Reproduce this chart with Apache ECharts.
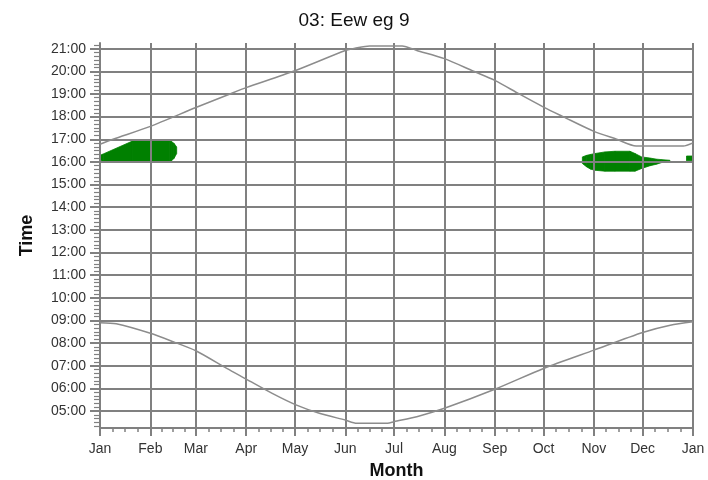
<!DOCTYPE html>
<html><head><meta charset="utf-8">
<script src="https://cdn.jsdelivr.net/npm/echarts@6/dist/echarts.min.js"></script>
<style>html,body{margin:0;padding:0;background:#fff}#c{width:708px;height:480px}</style>
</head><body><div id="c"></div>
<script>
const titleText = '03: Eew eg 9';
const xName = 'Month';
const yName = 'Time';
const monthStarts = [0, 31, 59, 90, 120, 151, 181, 212, 243, 273, 304, 334, 365];
const monthLabels = ['Jan','Feb','Mar','Apr','May','Jun','Jul','Aug','Sep','Oct','Nov','Dec','Jan'];
const hourTicks = [5,6,7,8,9,10,11,12,13,14,15,16,17,18,19,20,21];
const hourLabels = ['05:00','06:00','07:00','08:00','09:00','10:00','11:00','12:00','13:00','14:00','15:00','16:00','17:00','18:00','19:00','20:00','21:00'];

const sunsetDays  = [0, 8, 31, 59, 80, 90, 119, 151, 157, 166, 186, 195, 212, 230, 243, 258, 273, 285, 304, 318, 330, 359, 365];
const sunsetHours = [16.78, 17.0, 17.57, 18.4, 19.0, 19.28, 20.0, 20.92, 21.02, 21.12, 21.12, 20.92, 20.56, 20.0, 19.6, 19.0, 18.42, 18.0, 17.35, 17.0, 16.7, 16.7, 16.84];

const sunriseDays  = [0, 10, 31, 45, 59, 78, 90, 106, 121, 135, 151, 158, 177, 181, 195, 212, 243, 273, 304, 334, 351, 365];
const sunriseHours = [8.9, 8.85, 8.43, 8.06, 7.66, 6.88, 6.41, 5.78, 5.26, 4.9, 4.6, 4.46, 4.46, 4.53, 4.75, 5.12, 5.96, 6.88, 7.69, 8.47, 8.79, 8.94];

const blob1Days  = [0, 2, 20, 43, 44, 45.5, 47.2];
const blob1Start = [16.07, 16.03, 16.03, 16.03, 16.05, 16.15, 16.37];
const blob1End   = [16.29, 16.35, 16.92, 16.92, 16.9, 16.82, 16.66];

const blob2Days  = [296.9, 299.6, 302, 304.7, 310.8, 317, 326.2, 329.3, 333.4, 338.5, 342.6, 345.7, 350.8];
const blob2Start = [15.93, 15.78, 15.68, 15.63, 15.59, 15.59, 15.59, 15.59, 15.71, 15.83, 15.9, 15.97, 16.0];
const blob2End   = [16.22, 16.29, 16.33, 16.37, 16.44, 16.47, 16.47, 16.37, 16.22, 16.17, 16.12, 16.1, 16.07];

const blob3Days  = [361, 365];
const blob3Start = [16.05, 16.05];
const blob3End   = [16.26, 16.26];

const GRID = '#808080';
const CURVE = '#8c8c8c';
const GREEN = '#008000';
const FONT = 'Liberation Sans';

// minor ticks: each month split into quarters; each hour into 10-minute steps
const minorX = [];
for (let i = 0; i < monthStarts.length - 1; i++) {
  const a = monthStarts[i], b = monthStarts[i + 1];
  for (let k = 1; k < 4; k++) minorX.push(a + (b - a) * k / 4);
}
const minorY = [];
for (let m = 4 * 60 + 20; m <= 21 * 60 + 10; m += 10) {
  if (m % 60 !== 0) minorY.push(m / 60);
}

function pairs(xs, ys) { return xs.map((x, i) => [x, ys[i]]); }

function blobSeries(name, days, lo, hi) {
  const data = days.map((d, i) => [d, lo[i], hi[i]]);
  return {
    name: name, type: 'custom', silent: true, z: -1,
    encode: { x: 0, y: [1, 2] },
    data: data,
    renderItem: function (params, api) {
      const i = params.dataIndex;
      if (i >= data.length - 1) return null;
      const a = data[i], b = data[i + 1];
      const pts = [
        api.coord([a[0], a[1]]), api.coord([a[0], a[2]]),
        api.coord([b[0], b[2]]), api.coord([b[0], b[1]])
      ];
      return {
        type: 'polygon',
        shape: { points: pts },
        style: { fill: GREEN, stroke: GREEN, lineWidth: 0.8 }
      };
    }
  };
}

const chart = echarts.init(document.getElementById('c'), null, { renderer: 'canvas' });
chart.setOption({
  animation: false,
  backgroundColor: '#fff',
  title: {
    text: titleText, left: 'center', top: 6,
    textStyle: { fontFamily: FONT, fontSize: 19, fontWeight: 'normal', color: '#111' }
  },
  grid: { left: 100, right: 15, top: 43, bottom: 52, outerBoundsMode: 'none' },
  xAxis: [
    {
      type: 'value', min: 0, max: 365, position: 'bottom', z: 1,
      name: xName, nameLocation: 'middle', nameGap: 34,
      nameTextStyle: { fontFamily: FONT, fontSize: 18, fontWeight: 'bold', color: '#111' },
      axisLine: { show: true, lineStyle: { color: GRID, width: 2 } },
      axisTick: { show: true, customValues: monthStarts, length: 8, lineStyle: { color: GRID, width: 2 } },
      axisLabel: { customValues: monthStarts, margin: 14, fontFamily: FONT, fontSize: 14, color: '#333',
        formatter: v => monthLabels[monthStarts.indexOf(v)] },
      splitLine: { show: true, lineStyle: { color: GRID, width: 2 } }
    },
    {
      type: 'value', min: 0, max: 365, position: 'bottom', gridIndex: 0,
      axisLine: { show: false }, axisLabel: { show: false }, splitLine: { show: false },
      axisTick: { show: true, customValues: minorX, length: 4, lineStyle: { color: GRID, width: 1.5 } }
    }
  ],
  yAxis: [
    {
      type: 'value', min: 4.25, max: 21.25, position: 'left', z: 1,
      name: yName, nameLocation: 'middle', nameGap: 64,
      nameTextStyle: { fontFamily: FONT, fontSize: 18, fontWeight: 'bold', color: '#111' },
      axisLine: { show: true, lineStyle: { color: GRID, width: 2 } },
      axisTick: { show: true, customValues: hourTicks, length: 10, lineStyle: { color: GRID, width: 2 } },
      axisLabel: { customValues: hourTicks, margin: 14, fontFamily: FONT, fontSize: 14, color: '#333',
        formatter: v => hourLabels[hourTicks.indexOf(v)] },
      splitLine: { show: true, lineStyle: { color: GRID, width: 2 } }
    },
    {
      type: 'value', min: 4.25, max: 21.25, position: 'left', gridIndex: 0,
      axisLine: { show: false }, axisLabel: { show: false }, splitLine: { show: false },
      axisTick: { show: true, customValues: minorY, length: 6, lineStyle: { color: GRID, width: 1.2 } }
    }
  ],
  series: [
    blobSeries('b1', blob1Days, blob1Start, blob1End),
    blobSeries('b2', blob2Days, blob2Start, blob2End),
    blobSeries('b3', blob3Days, blob3Start, blob3End),
    { name: 'sunset', type: 'line', data: pairs(sunsetDays, sunsetHours), smooth: 0.25,
      symbol: 'none', lineStyle: { color: CURVE, width: 1.5 }, silent: true, z: 4 },
    { name: 'sunrise', type: 'line', data: pairs(sunriseDays, sunriseHours), smooth: 0.25,
      symbol: 'none', lineStyle: { color: CURVE, width: 1.5 }, silent: true, z: 4 }
  ]
});
</script></body></html>
